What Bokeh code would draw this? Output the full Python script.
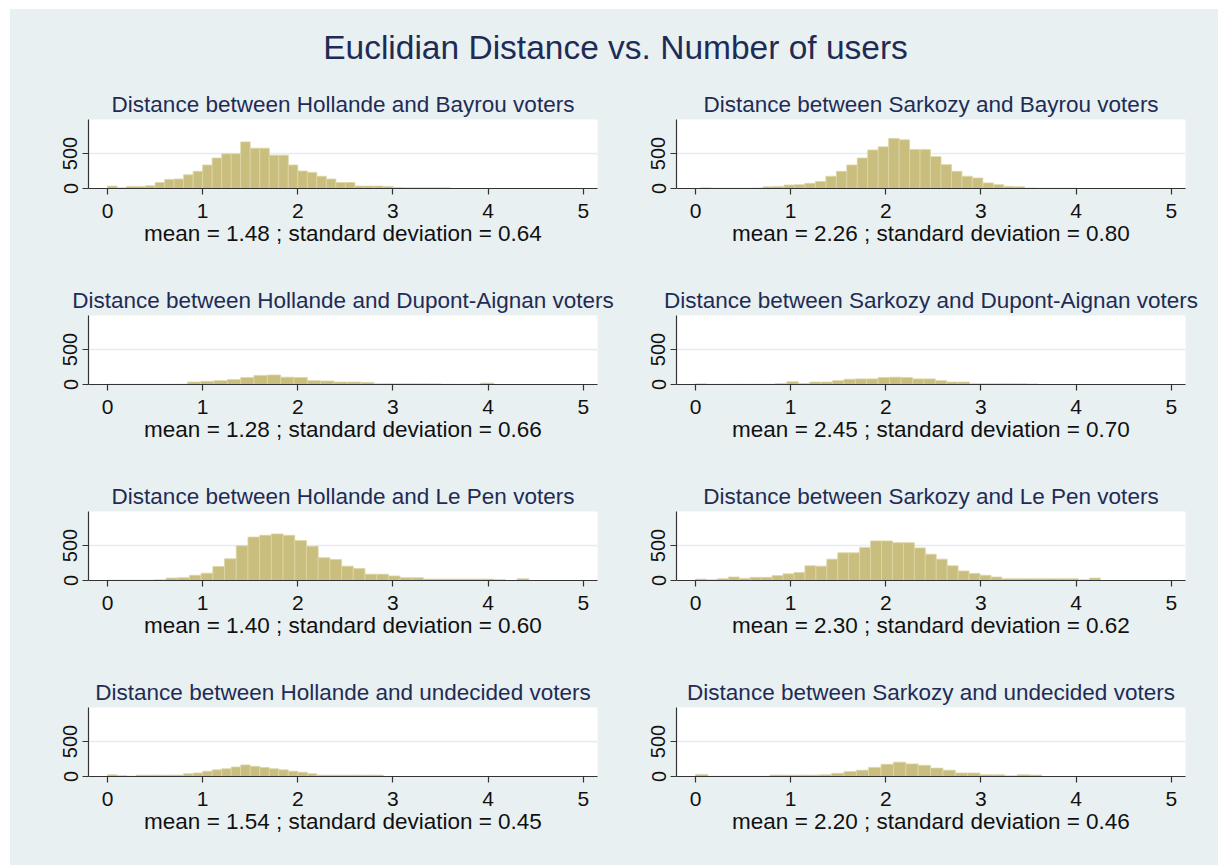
from bokeh.plotting import figure
from bokeh.layouts import column, row
from bokeh.models import Label, FixedTicker, Range1d, Spacer
from bokeh.embed import file_html
from bokeh.resources import INLINE

main_title = "Euclidian Distance vs. Number of users"

panel_titles = [
    "Distance between Hollande and Bayrou voters",
    "Distance between Sarkozy and Bayrou voters",
    "Distance between Hollande and Dupont-Aignan voters",
    "Distance between Sarkozy and Dupont-Aignan voters",
    "Distance between Hollande and Le Pen voters",
    "Distance between Sarkozy and Le Pen voters",
    "Distance between Hollande and undecided voters",
    "Distance between Sarkozy and undecided voters",
]

mean_labels = [
    "mean = 1.48 ; standard deviation = 0.64",
    "mean = 2.26 ; standard deviation = 0.80",
    "mean = 1.28 ; standard deviation = 0.66",
    "mean = 2.45 ; standard deviation = 0.70",
    "mean = 1.40 ; standard deviation = 0.60",
    "mean = 2.30 ; standard deviation = 0.62",
    "mean = 1.54 ; standard deviation = 0.45",
    "mean = 2.20 ; standard deviation = 0.46",
]

bin_starts = [0.0, 0.05, 0.0, 0.0, 0.0, 0.0, 0.0, 0.0]
bin_widths = [0.1, 0.11, 0.14, 0.12, 0.123, 0.115, 0.1, 0.13]

counts_hollande_bayrou = [35, 10, 30, 30, 40, 85, 130, 135, 195, 245, 335, 435, 495, 495, 665, 575, 575, 475,
                          475, 335, 250, 230, 175, 135, 85, 85, 35, 35, 35, 30, 15, 10, 10, 10, 10, 10]
counts_sarkozy_bayrou = [10, 5, 5, 5, 5, 8, 25, 30, 50, 55, 75, 100, 175, 245, 335, 435, 550, 595, 715, 695,
                         555, 555, 455, 340, 245, 175, 150, 80, 55, 30, 25, 8, 5, 5, 5, 5]
counts_hollande_dupont = [3, 3, 3, 3, 3, 5, 35, 45, 55, 70, 100, 130, 135, 105, 100, 55, 50, 35, 35, 30, 12, 12,
                          12, 12, 10, 5, 3, 3, 20]
counts_sarkozy_dupont = [10, 3, 3, 5, 5, 5, 5, 15, 40, 15, 35, 35, 55, 75, 80, 80, 100, 105, 100, 80, 80, 55, 35,
                         35, 12, 12, 12, 12, 12, 8]
counts_hollande_lepen = [5, 5, 5, 5, 10, 35, 40, 75, 105, 200, 310, 495, 620, 645, 665, 645, 570, 490, 325, 300,
                         205, 170, 90, 90, 65, 40, 40, 20, 20, 20, 20, 20, 20, 15, 0, 25]
counts_sarkozy_lepen = [20, 10, 25, 50, 30, 45, 45, 70, 95, 115, 210, 205, 305, 395, 395, 470, 565, 565, 540, 540,
                        465, 375, 305, 210, 135, 100, 75, 50, 25, 25, 25, 25, 25, 25, 25, 10, 35]
counts_hollande_undecided = [25, 15, 5, 20, 20, 20, 20, 20, 40, 50, 75, 95, 110, 135, 165, 145, 130, 110, 95, 75,
                             60, 40, 20, 20, 20, 20, 20, 20, 20]
counts_sarkozy_undecided = [30, 3, 3, 3, 3, 3, 20, 20, 20, 20, 25, 45, 70, 90, 130, 175, 205, 180, 160, 120, 90,
                            50, 50, 25, 25, 10, 25, 20]

all_counts = [counts_hollande_bayrou, counts_sarkozy_bayrou, counts_hollande_dupont, counts_sarkozy_dupont,
              counts_hollande_lepen, counts_sarkozy_lepen, counts_hollande_undecided, counts_sarkozy_undecided]

x_ticks = [0, 1, 2, 3, 4, 5]
y_ticks = [0, 500]

BG = "#E9F0F2"
BAR = "#C9BE7D"
BAR_EDGE = "#DCD5A6"
NAVY = "#1E2C55"
FONT = "Liberation Sans"


def make_panel(i, left, last):
    counts = all_counts[i]
    s, w = bin_starts[i], bin_widths[i]
    lefts = [s + k * w for k in range(len(counts))]
    rights = [s + (k + 1) * w for k in range(len(counts))]
    p = figure(width=610 if left else 598, height=198 if last else 196,
               x_range=Range1d(-0.2, 5.15), y_range=Range1d(0, 985),
               output_backend="svg", toolbar_location=None,
               min_border_left=78 if left else 56, min_border_right=23 if left else 33,
               min_border_top=40, min_border_bottom=89 if last else 87)
    p.background_fill_color = "white"
    p.border_fill_color = BG
    p.outline_line_color = None
    p.quad(left=lefts, right=rights, bottom=0, top=counts,
           fill_color=BAR, line_color=BAR_EDGE, line_width=0.8)

    p.title.text = panel_titles[i]
    p.title.align = "center"
    p.title.text_font = FONT
    p.title.text_font_size = "22.5px"
    p.title.text_font_style = "normal"
    p.title.text_color = NAVY
    p.title.standoff = 5

    p.xgrid.visible = False
    p.ygrid.ticker = FixedTicker(ticks=y_ticks)
    p.ygrid.grid_line_color = "#E4ECEF"
    p.ygrid.grid_line_width = 1.5

    xa = p.xaxis[0]
    xa.ticker = FixedTicker(ticks=x_ticks)
    xa.axis_label = mean_labels[i]
    xa.axis_label_text_font = FONT
    xa.axis_label_text_font_size = "22.5px"
    xa.axis_label_text_font_style = "normal"
    xa.axis_label_text_color = "#111111"
    xa.axis_label_standoff = 0
    xa.major_label_text_font = FONT
    xa.major_label_text_font_size = "21px"
    xa.major_label_text_color = "#111111"
    xa.major_label_standoff = 9

    ya = p.yaxis[0]
    ya.ticker = FixedTicker(ticks=y_ticks)
    ya.major_label_orientation = "vertical"
    ya.major_label_text_font = FONT
    ya.major_label_text_font_size = "20px"
    ya.major_label_text_color = "#111111"
    ya.major_label_standoff = 5

    for ax in (xa, ya):
        ax.axis_line_color = "#333333"
        ax.axis_line_width = 1.2
        ax.major_tick_line_color = "#333333"
        ax.major_tick_line_width = 1.2
        ax.major_tick_out = 6
        ax.major_tick_in = 0
        ax.minor_tick_line_color = None
    return p


title_fig = figure(width=1208, height=70, x_axis_type=None, y_axis_type=None,
                   x_range=Range1d(0, 1), y_range=Range1d(0, 1),
                   output_backend="svg", toolbar_location=None, min_border=0)
title_fig.background_fill_color = BG
title_fig.border_fill_color = BG
title_fig.outline_line_color = None
title_fig.grid.visible = False
title_fig.add_layout(Label(x=605, y=32, x_units="screen", y_units="screen", text=main_title,
                           text_align="center", text_baseline="middle", text_font=FONT,
                           text_font_size="33.5px", text_color=NAVY))

bg_style = {"background-color": BG}
rows = []
for r in range(4):
    last = (r == 3)
    rows.append(row(make_panel(2 * r, True, last), make_panel(2 * r + 1, False, last), styles=bg_style))

inner = column(title_fig, *rows, styles=bg_style)
layout = column(Spacer(width=10, height=9), row(Spacer(width=10, height=10), inner))

with open("out.html", "w") as f:
    f.write(file_html(layout, INLINE))
